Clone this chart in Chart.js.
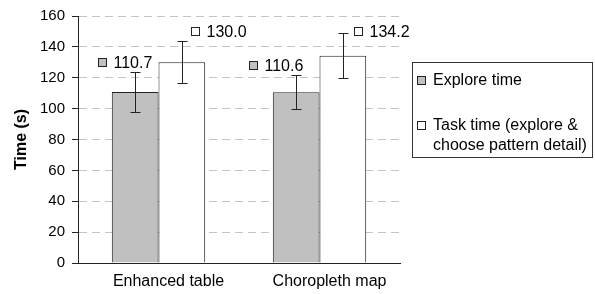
<!DOCTYPE html>
<html><head><meta charset="utf-8">
<script src="https://cdn.jsdelivr.net/npm/chart.js@4/dist/chart.umd.min.js"></script>
<style>html,body{margin:0;padding:0;background:#fff}#wrap{width:595px;height:294px;position:relative}</style>
</head><body><div id="wrap"><canvas id="c"></canvas></div>
<script>
// ---- data ----
const categories = ['Enhanced table', 'Choropleth map'];
const seriesNames = ['Explore time', 'Task time (explore & choose pattern detail)'];
const legendLines = [['Explore time'], ['Task time (explore &', 'choose pattern detail)']];
const exploreTime = [110.7, 110.6];
const taskTime = [130.0, 134.2];
const exploreErr = [12.8, 11.0];
const taskErr = [13.6, 14.5];
const yTickMin = 0, yTickMax = 160, yTickStep = 20;

// ---- styling / layout ----
const FONT = "'Liberation Sans', Arial, sans-serif";
const colors = ['#c0c0c0', '#ffffff'];
const edge = '#222222';
// label offsets: [dx from bar center to marker left, dy from error-bar top to label center]
const labelOffsets = [[[-37, -10], [-47.5, -10]], [[9.5, -9.5], [11.5, -2]]];

const errs = [exploreErr, taskErr];

const errorBarPlugin = {
  id: 'errbars',
  afterDatasetsDraw(chart) {
    const ctx = chart.ctx, y = chart.scales.y;
    ctx.save();
    ctx.strokeStyle = edge; ctx.lineWidth = 1;
    chart.data.datasets.forEach((ds, di) => {
      const meta = chart.getDatasetMeta(di);
      meta.data.forEach((bar, i) => {
        const v = ds.data[i], e = errs[di][i];
        const x = Math.round(bar.x) + 0.5;
        const top = Math.round(y.getPixelForValue(v + e)) + 0.5;
        const bot = Math.round(y.getPixelForValue(v - e)) + 0.5;
        ctx.beginPath();
        ctx.moveTo(x, top); ctx.lineTo(x, bot);
        ctx.moveTo(x - 5, top); ctx.lineTo(x + 5, top);
        ctx.moveTo(x - 5, bot); ctx.lineTo(x + 5, bot);
        ctx.stroke();
        // value label
        const [dx, dy] = labelOffsets[di][i];
        const sx = Math.round(bar.x + dx) + 0.5;
        const cy = y.getPixelForValue(v + e) + dy;
        const sy = Math.round(cy - 4.5) + 0.5;
        ctx.fillStyle = colors[di];
        ctx.fillRect(sx, sy, 8, 8);
        ctx.strokeRect(sx, sy, 8, 8);
        ctx.fillStyle = '#000';
        ctx.font = '16px ' + FONT;
        ctx.textBaseline = 'middle';
        ctx.textAlign = 'left';
        ctx.fillText(v.toFixed(1), sx + 15, cy + 1);
      });
    });
    ctx.restore();
  }
};

const legendPlugin = {
  id: 'boxlegend',
  afterDraw(chart) {
    const ctx = chart.ctx;
    const bx = 412.5, by = 62.5, bw = 180, bh = 95;
    ctx.save();
    ctx.strokeStyle = '#333'; ctx.lineWidth = 1;
    ctx.strokeRect(bx, by, bw, bh);
    ctx.font = '16px ' + FONT;
    ctx.textBaseline = 'middle'; ctx.textAlign = 'left';
    const rowY = [80, 125];
    legendLines.forEach((lines, di) => {
      const cy = rowY[di];
      ctx.fillStyle = colors[di];
      ctx.fillRect(417.5, Math.round(cy - 4.5) + 0.5, 8, 8);
      ctx.strokeStyle = edge;
      ctx.strokeRect(417.5, Math.round(cy - 4.5) + 0.5, 8, 8);
      ctx.fillStyle = '#000';
      lines.forEach((t, li) => ctx.fillText(t, 433, cy + 1 + li * 20));
    });
    ctx.restore();
  }
};

new Chart(document.getElementById('c'), {
  type: 'bar',
  data: {
    labels: categories,
    datasets: [
      { label: seriesNames[0], data: exploreTime, backgroundColor: colors[0], borderColor: edge, borderWidth: 1, borderSkipped: 'start' },
      { label: seriesNames[1], data: taskTime, backgroundColor: colors[1], borderColor: edge, borderWidth: 1, borderSkipped: 'start' }
    ]
  },
  options: {
    responsive: true,
    maintainAspectRatio: false,
    animation: false,
    events: [],
    layout: { padding: { top: 16, right: 195, left: 0, bottom: 0 } },
    plugins: { legend: { display: false }, tooltip: { enabled: false } },
    datasets: { bar: { categoryPercentage: 0.58, barPercentage: 1.0 } },
    scales: {
      x: {
        grid: { display: false, drawTicks: false },
        border: { display: true, color: '#222', width: 1 },
        ticks: { color: '#000', font: { family: FONT, size: 16 }, padding: 9, labelOffset: 10 },
        afterFit(s) { s.height = 31; }
      },
      y: {
        min: yTickMin, max: yTickMax,
        ticks: { stepSize: yTickStep, color: '#000', font: { family: FONT, size: 15 }, padding: 7 },
        grid: {
          color: (c) => c.tick && c.tick.value === 0 ? 'rgba(0,0,0,0)' : '#c4c4c4',
          tickColor: '#222', tickLength: 6, lineWidth: 1
        },
        border: { display: true, color: '#222', width: 1, dash: [8, 5] },
        title: { display: true, text: 'Time (s)', color: '#000', font: { family: FONT, size: 16, weight: 'bold' }, padding: { top: 12, bottom: 0 } },
        afterFit(s) { s.width = 78; }
      }
    }
  },
  plugins: [errorBarPlugin, legendPlugin]
});
</script>
</body></html>
